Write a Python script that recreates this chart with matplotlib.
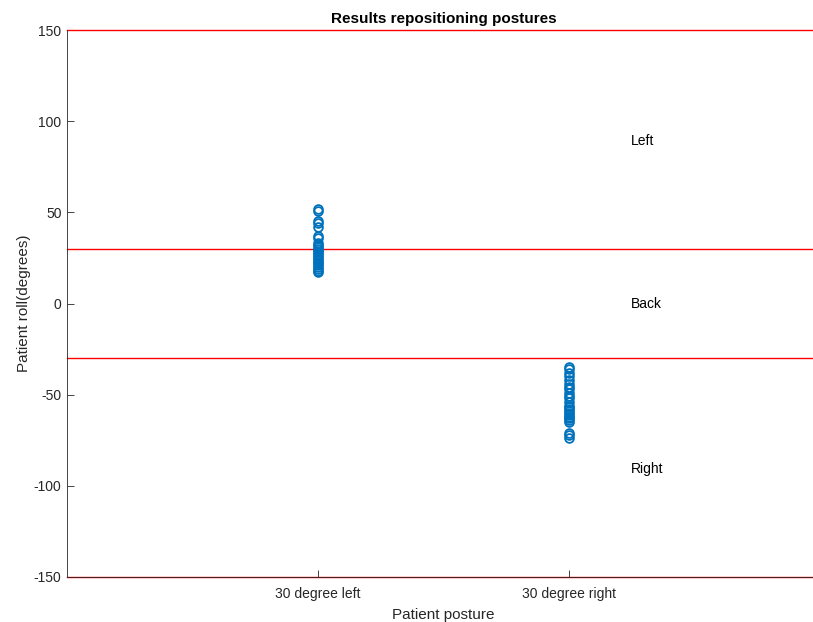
import matplotlib
matplotlib.use("Agg")
import matplotlib.pyplot as plt
import numpy as np

plt.rcParams['font.family'] = ['Liberation Sans', 'DejaVu Sans']

categories = ["30 degree left", "30 degree right"]
roll_left = [52, 51, 45, 44, 42, 37, 36, 33, 32, 31, 30, 29, 28, 27, 26, 25,
             24, 23, 22, 21, 20, 19, 18, 17.5]
roll_right = [-35, -36, -38, -40, -42, -44, -46, -47, -49, -51, -52, -54, -56,
              -57, -58, -59, -60, -61, -62, -63, -64, -65, -71, -72, -74]
boundaries = [150, 30, -30, -150]
zone_labels = ["Left", "Back", "Right"]
zone_label_y = [89, -0.5, -91]

fig = plt.figure(figsize=(8.13, 6.22), dpi=100)
ax = fig.add_axes([67 / 813, 45 / 622, 753 / 813, 547 / 622])

blue = "#0072BD"
for i, vals in enumerate([roll_left, roll_right], start=1):
    ax.plot(np.full(len(vals), i), vals, linestyle="none", marker="o",
            markersize=6.3, markerfacecolor="none", markeredgecolor=blue,
            markeredgewidth=1.3, zorder=3)

for b in boundaries:
    ax.axhline(b, color="red", linewidth=1.0, zorder=2, clip_on=False)

for lab, yv in zip(zone_labels, zone_label_y):
    ax.text(2.245, yv, lab, fontsize=10, ha="left", va="center", color="black")

ax.set_xlim(0, 3)
ax.set_ylim(-150, 150)
ax.set_xticks([1, 2])
ax.set_xticklabels(categories)
ax.set_yticks([-150, -100, -50, 0, 50, 100, 150])
ax.set_yticklabels(["-150", "-100", "-50", "0", "50", "100", "150"])
ax.tick_params(direction="in", length=5, width=0.6, colors="#262626",
               labelsize=10, labelcolor="#262626")
ax.tick_params(axis="x", pad=7)
ax.tick_params(axis="y", pad=4)

for s in ["top", "right"]:
    ax.spines[s].set_visible(False)
for s in ["left", "bottom"]:
    ax.spines[s].set_color("#262626")
    ax.spines[s].set_linewidth(0.6)

ax.set_title("Results repositioning postures", fontsize=11, fontweight="bold",
             pad=5)
ax.set_xlabel("Patient posture", fontsize=11, color="#262626", labelpad=5)
ax.set_ylabel("Patient roll(degrees)", fontsize=11, color="#262626", labelpad=2)

fig.savefig("out.png", dpi=100)
